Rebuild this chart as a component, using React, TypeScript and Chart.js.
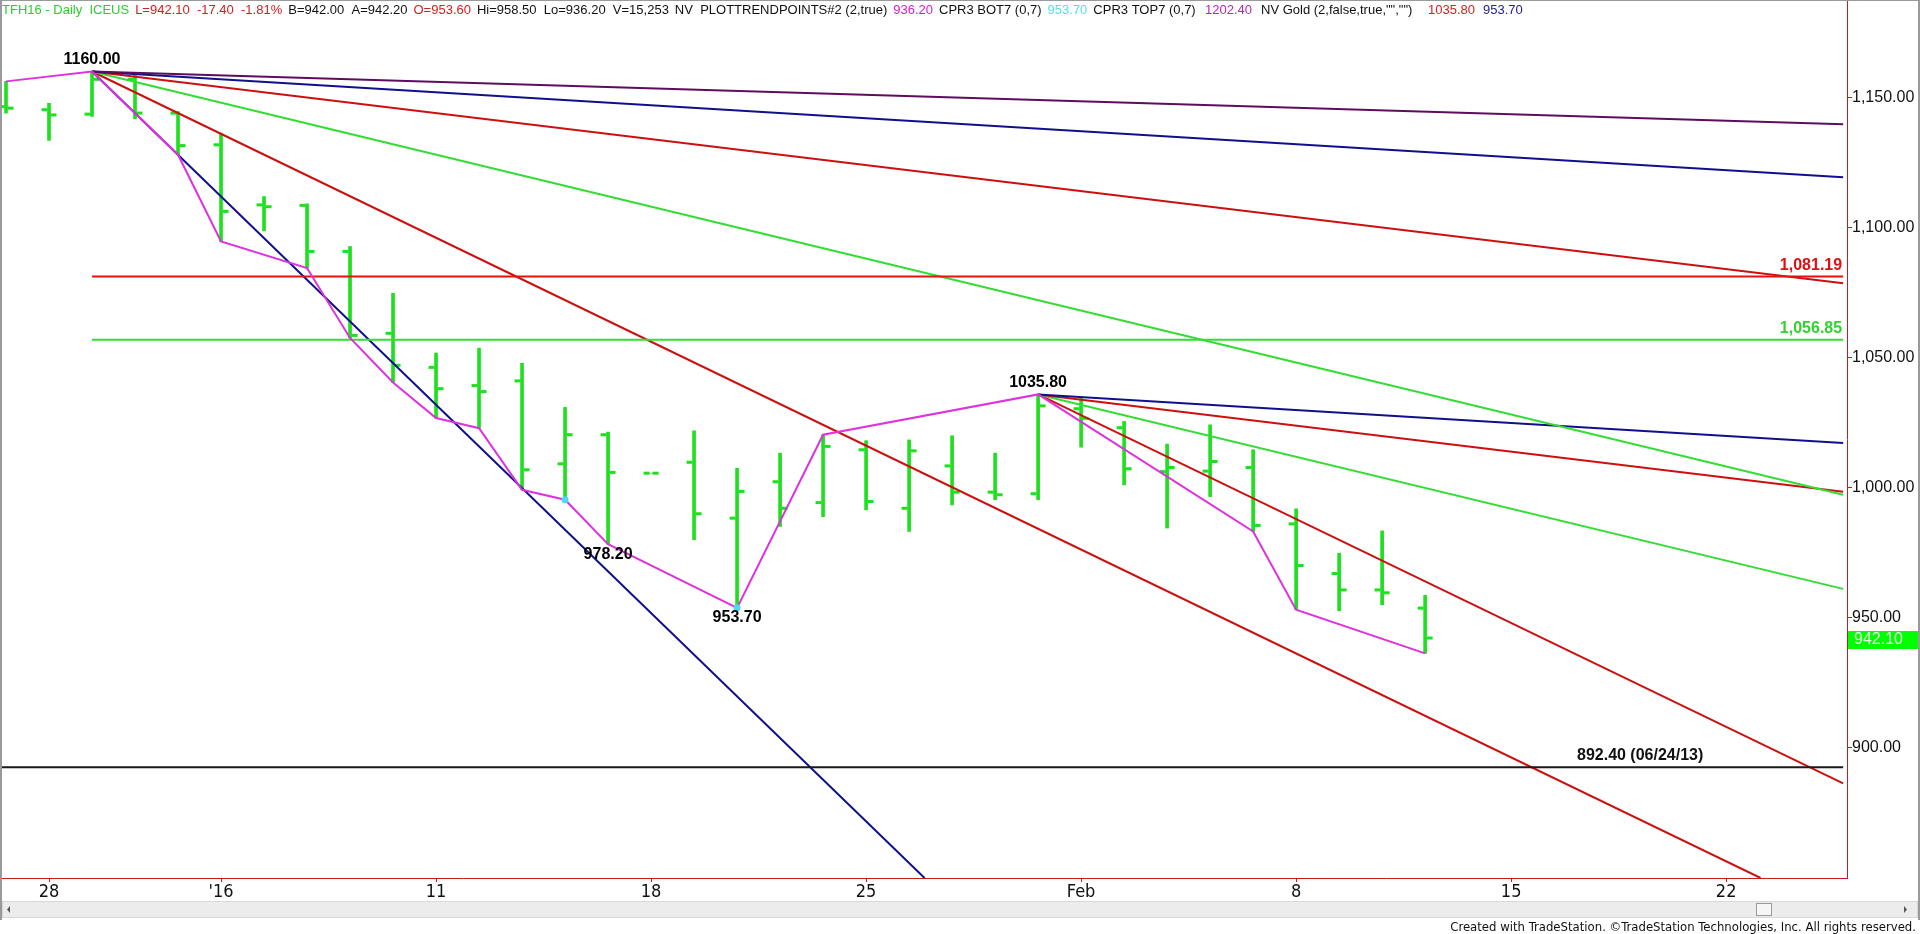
import React, { useEffect, useRef } from 'react';
import { Chart, registerables } from 'chart.js';

Chart.register(...registerables);

// ---------------- data ----------------
const dates = ['Dec 24', 'Dec 28', 'Dec 29', 'Dec 30', 'Dec 31', 'Jan 4', 'Jan 5', 'Jan 6', 'Jan 7', 'Jan 8',
  'Jan 11', 'Jan 12', 'Jan 13', 'Jan 14', 'Jan 15', 'Jan 18', 'Jan 19', 'Jan 20', 'Jan 21', 'Jan 22',
  'Jan 25', 'Jan 26', 'Jan 27', 'Jan 28', 'Jan 29', 'Feb 1', 'Feb 2', 'Feb 3', 'Feb 4', 'Feb 5',
  'Feb 8', 'Feb 9', 'Feb 10', 'Feb 11'];
const opens = [1146.5, 1145.3, 1143.6, 1157, 1144, 1131.8, 1108.7, 1108.5, 1090.8, 1059.3,
  1046.2, 1039.2, 1041, 1009.1, 1020.3, 1005.5, 1009.7, 988.2, 1002.2, 994.2,
  1014.5, 992, 1008.3, 998.2, 997.6, 1030.3, 1023, 1006.1, 1006.3, 1007.7,
  986, 966.9, 960.6, 953.6];
const highs = [1156.2, 1147.8, 1160, 1158.5, 1144.6, 1136.3, 1111.9, 1109.1, 1092.7, 1074.7,
  1051.7, 1053.6, 1047.8, 1030.8, 1021.3, 1005.5, 1021.8, 1007.4, 1013.2, 1020.3,
  1018, 1018.3, 1019.9, 1013.2, 1035.8, 1034.3, 1025.4, 1016.7, 1024.1, 1014.5,
  991.8, 974.7, 983.3, 958.5];
const lows = [1144, 1133.5, 1142.7, 1141.8, 1128, 1094.6, 1098.7, 1084.4, 1057.5, 1040.4,
  1026.7, 1022.8, 999.1, 995.3, 978.2, 1005.5, 979.9, 953.7, 985, 988.8,
  991.4, 983.1, 993.3, 995.3, 995.3, 1015.5, 1001, 984.4, 996.5, 983.1,
  953, 952.6, 954.9, 936.2];
const closes = [1145.9, 1143.3, 1157, 1144, 1131.5, 1106.2, 1108, 1090.8, 1058.5, 1047,
  1038, 1036.9, 1006.8, 1020.3, 1005.8, 1005.5, 989.9, 998.5, 992, 1015.8,
  994.6, 1014.1, 998.2, 997.2, 1031.4, 1026.6, 1007.2, 1007.7, 1010, 985.4,
  970, 960.6, 959.5, 942.1];

// swing (trend point) line
const swingIdx = [0, 2, 4, 5, 7, 8, 9, 10, 11, 12, 13, 14, 17, 19, 24, 29, 30, 33];
const swingVal = [1156.2, 1160, 1128, 1094.6, 1084.4, 1057.5, 1040.4, 1026.7, 1022.8, 999.1,
  995.3, 978.2, 953.7, 1020.3, 1035.8, 983.1, 953, 936.2];

// CPR bottom points
const cprIdx = [13, 17];
const cprVal = [995.3, 953.7];

// swing labels
const swingLabelIdx = [2, 14, 17, 24];
const swingLabelVal = [1160, 978.2, 953.7, 1035.8];
const swingLabelSide = ['above', 'below', 'below', 'above'];

// fan lines (start/end)
const fanStartIdx = [2, 2, 2, 2, 2, 2, 24, 24, 24, 24];
const fanStartVal = [1160, 1160, 1160, 1160, 1160, 1160, 1035.8, 1035.8, 1035.8, 1035.8];
const fanEndIdx = [42.72, 42.72, 42.72, 42.72, 40.8, 21.36, 42.72, 42.72, 42.72, 42.72];
const fanEndVal = [1139.7, 1119.3, 1078.6, 997.2, 849.8, 849.8, 1017.1, 998.4, 961, 886.2];

// horizontal levels
const levelVal = [1081.19, 1056.85, 892.4];
const levelStartIdx = [2, 2, -0.1];
const levelEndIdx = [42.72, 42.72, 42.72];
const supportDate = '06/24/13';

// axis ticks
const xTickPos = [1, 5, 10, 15, 20, 25, 30, 35, 40];
const xTickLabels = ['28', "'16", '11', '18', '25', 'Feb', '8', '15', '22'];
const yTickVals = [900, 950, 1000, 1050, 1100, 1150];

// header
const headerText = ['TFH16 - Daily  ICEUS', 'L=942.10  -17.40  -1.81%', 'B=942.00  A=942.20', 'O=953.60',
  'Hi=958.50  Lo=936.20  V=15,253', 'NV  PLOTTRENDPOINTS#2 (2,true)', '936.20', 'CPR3 BOT7 (0,7)',
  '953.70', 'CPR3 TOP7 (0,7)', '1202.40', 'NV Gold (2,false,true,"","")', '1035.80', '953.70'];
const footerText = 'Created with TradeStation. \u00A9TradeStation Technologies, Inc. All rights reserved.';

// ---------------- styles / layout ----------------
const W = 1920;
const H = 934;
const BAR_GREEN = '#1ee01e';
const AXIS_RED = '#cc1a1a';
const headerColors = ['#2ecc2e', '#d42020', '#111', '#d42020', '#111', '#111', '#d020d0', '#111',
  '#55e0e8', '#111', '#c020c0', '#111', '#d42020', '#2020a0'];
const headerX = [2, 122, 284, 406, 466, 665, 879, 926, 1037, 1089, 1205, 1261, 1428, 1483];
const fanColors = ['#5e0c5e', '#10108a', '#cc1010', '#33dd33', '#cc1010', '#10108a',
  '#10108a', '#cc1010', '#33dd33', '#cc1010'];
const levelColors = ['#e81010', '#33dd33', '#1a1a1a'];
const levelLabelColors = ['#dd1111', '#2ed42e', '#111'];
const SANS = '"Liberation Sans", Arial, sans-serif';
const NARROW = '"Liberation Sans Narrow", "Arial Narrow", "DejaVu Sans Condensed", "Liberation Sans", sans-serif';

const fmt2 = (v: number) => v.toLocaleString('en-US', { minimumFractionDigits: 2, maximumFractionDigits: 2 });

const decorPlugin = {
  id: 'decor',
  beforeDraw(chart: any) {
    const ctx = chart.ctx;
    ctx.save();
    ctx.fillStyle = '#ffffff';
    ctx.fillRect(0, 0, W, H);
    ctx.restore();
  },
  afterDatasetDraw(chart: any, args: any) {
    if (args.index !== 0) return;
    const { ctx } = chart;
    const x = chart.scales.x;
    const y = chart.scales.y;
    ctx.save();
    ctx.fillStyle = BAR_GREEN;
    const TL = 6;
    dates.forEach((_, i) => {
      const px = x.getPixelForValue(i);
      const yo = y.getPixelForValue(opens[i]);
      const yc = y.getPixelForValue(closes[i]);
      ctx.fillRect(px - 1.5 - TL, yo - 1.5, TL, 3);
      ctx.fillRect(px + 1.5, yc - 1.5, TL, 3);
    });
    ctx.restore();
  },
  afterDatasetsDraw(chart: any) {
    const { ctx } = chart;
    const x = chart.scales.x;
    const y = chart.scales.y;
    ctx.save();
    ctx.font = 'bold 16px ' + SANS;
    ctx.textBaseline = 'middle';
    ctx.textAlign = 'center';
    ctx.fillStyle = '#000';
    swingLabelIdx.forEach((v, k) => {
      const px = x.getPixelForValue(v);
      const py = y.getPixelForValue(swingLabelVal[k]);
      ctx.fillText(swingLabelVal[k].toFixed(2), px, py + (swingLabelSide[k] === 'above' ? -12 : 10));
    });
    // level labels
    ctx.textAlign = 'right';
    for (let k = 0; k < 2; k++) {
      ctx.fillStyle = levelLabelColors[k];
      ctx.fillText(fmt2(levelVal[k]), x.getPixelForValue(levelEndIdx[k]) - 1, y.getPixelForValue(levelVal[k]) - 11);
    }
    ctx.textAlign = 'center';
    ctx.fillStyle = levelLabelColors[2];
    ctx.fillText(levelVal[2].toFixed(2) + ' (' + supportDate + ')', x.getPixelForValue(38), y.getPixelForValue(levelVal[2]) - 12);
    ctx.restore();
  },
  afterDraw(chart: any) {
    const { ctx } = chart;
    const y = chart.scales.y;
    ctx.save();
    // header
    ctx.font = '13px ' + SANS;
    ctx.textBaseline = 'middle';
    ctx.textAlign = 'left';
    let prevEnd = -100;
    headerText.forEach((t, i) => {
      const sx = Math.max(headerX[i], prevEnd + 6);
      ctx.fillStyle = headerColors[i];
      ctx.fillText(t, sx, 10);
      prevEnd = sx + ctx.measureText(t).width;
    });
    // last price box
    const last = closes[closes.length - 1];
    const ly = y.getPixelForValue(last);
    ctx.fillStyle = '#00ff00';
    ctx.fillRect(1848, ly - 7, 71, 18);
    ctx.fillStyle = '#e8ffe8';
    ctx.font = '16px ' + SANS;
    ctx.fillText(last.toFixed(2), 1854, ly + 2);
    // scrollbar
    ctx.fillStyle = '#ececec';
    ctx.fillRect(2, 901, W - 4, 17);
    ctx.strokeStyle = '#d8d8d8';
    ctx.lineWidth = 1;
    ctx.strokeRect(2.5, 901.5, W - 5, 16);
    ctx.fillStyle = '#f6f6f6';
    ctx.fillRect(1756, 903, 16, 13);
    ctx.strokeStyle = '#9a9a9a';
    ctx.strokeRect(1756.5, 903.5, 15, 12);
    ctx.fillStyle = '#555';
    ctx.beginPath();
    ctx.moveTo(10, 906); ctx.lineTo(10, 913); ctx.lineTo(7, 909.5); ctx.closePath(); ctx.fill();
    ctx.beginPath();
    ctx.moveTo(1904, 906); ctx.lineTo(1904, 913); ctx.lineTo(1907, 909.5); ctx.closePath(); ctx.fill();
    // footer
    ctx.fillStyle = '#111';
    ctx.font = '13px ' + NARROW;
    ctx.textAlign = 'right';
    ctx.fillText(footerText, 1916, 928);
    // frame
    ctx.fillStyle = '#9a9a9a';
    ctx.fillRect(0, 0, 2, 920);
    ctx.fillRect(0, 0, W, 1);
    ctx.fillRect(W - 2, 0, 2, 920);
    ctx.restore();
  },
};

export default function App() {
  const ref = useRef<HTMLCanvasElement | null>(null);

  useEffect(() => {
    document.body.style.margin = '0';
    const canvas = ref.current;
    if (!canvas) return;

    const datasets: any[] = [];
    datasets.push({
      type: 'bar',
      label: 'OHLC',
      data: dates.map((_, i) => ({ x: i, y: [lows[i], highs[i]] })),
      backgroundColor: BAR_GREEN,
      borderWidth: 0,
      barThickness: 3,
      order: 100,
    });
    fanStartIdx.forEach((s, i) => {
      datasets.push({
        type: 'line',
        label: 'fan' + i,
        data: [{ x: s, y: fanStartVal[i] }, { x: fanEndIdx[i], y: fanEndVal[i] }],
        borderColor: fanColors[i],
        borderWidth: 2,
        pointRadius: 0,
        order: 50,
      });
    });
    levelVal.forEach((v, i) => {
      datasets.push({
        type: 'line',
        label: 'level' + i,
        data: [{ x: levelStartIdx[i], y: v }, { x: levelEndIdx[i], y: v }],
        borderColor: levelColors[i],
        borderWidth: 2,
        pointRadius: 0,
        order: 40,
      });
    });
    datasets.push({
      type: 'line',
      label: 'trend points',
      data: swingIdx.map((v, i) => ({ x: v, y: swingVal[i] })),
      borderColor: '#dd33dd',
      borderWidth: 2,
      pointRadius: 0,
      order: 20,
    });
    datasets.push({
      type: 'line',
      label: 'cpr',
      data: cprIdx.map((v, i) => ({ x: v, y: cprVal[i] })),
      showLine: false,
      pointRadius: 3.5,
      pointBackgroundColor: '#4fd8f5',
      pointBorderWidth: 0,
      order: 10,
    });

    const chart = new Chart(canvas, {
      type: 'bar',
      data: { datasets },
      plugins: [decorPlugin],
      options: {
        responsive: false,
        devicePixelRatio: 1,
        animation: false,
        layout: { autoPadding: false, padding: { left: 2, right: 0, top: 0, bottom: 0 } },
        plugins: { legend: { display: false }, tooltip: { enabled: false } },
        scales: {
          x: {
            type: 'linear',
            min: -0.093,
            max: 42.81,
            offset: false,
            afterBuildTicks: (axis: any) => { axis.ticks = xTickPos.map((v) => ({ value: v })); },
            afterFit: (axis: any) => {
              axis.height = 56;
              axis.paddingLeft = 0; axis.paddingRight = 0; axis.paddingTop = 0; axis.paddingBottom = 0;
            },
            grid: { drawOnChartArea: false, drawTicks: true, tickLength: 4, color: AXIS_RED, offset: false },
            border: { display: true, color: AXIS_RED, width: 1 },
            ticks: {
              autoSkip: false,
              maxRotation: 0,
              minRotation: 0,
              padding: 0,
              color: '#111',
              font: { family: NARROW, size: 18 },
              callback: (v: any) => {
                const k = xTickPos.indexOf(Number(v));
                return k >= 0 ? xTickLabels[k] : '';
              },
            },
          },
          y: {
            type: 'linear',
            position: 'right',
            min: 849.8,
            max: 1187.5,
            afterBuildTicks: (axis: any) => { axis.ticks = yTickVals.map((v) => ({ value: v })); },
            afterFit: (axis: any) => {
              axis.width = 73;
              axis.paddingLeft = 0; axis.paddingRight = 0; axis.paddingTop = 0; axis.paddingBottom = 0;
            },
            grid: { drawOnChartArea: false, drawTicks: true, tickLength: 5, color: AXIS_RED },
            border: { display: true, color: AXIS_RED, width: 1 },
            ticks: {
              padding: 0,
              color: '#111',
              font: { family: SANS, size: 16 },
              callback: (v: any) => fmt2(Number(v)),
            },
          },
        },
      } as any,
    });

    return () => chart.destroy();
  }, []);

  return (
    <canvas
      ref={ref}
      width={W}
      height={H}
      style={{ position: 'fixed', left: 0, top: 0, width: W + 'px', height: H + 'px', display: 'block' }}
    />
  );
}
